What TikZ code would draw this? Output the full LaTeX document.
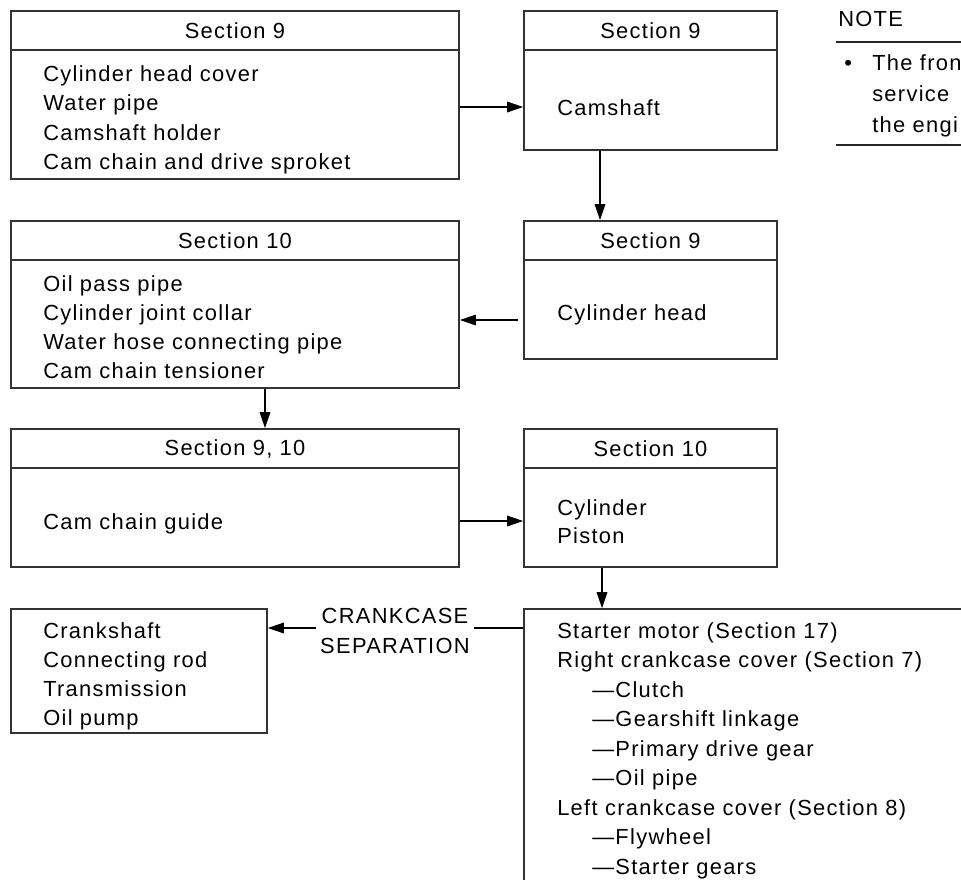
\documentclass[tikz,border=0pt]{standalone}
\usepackage{fontspec}
\setmainfont{Liberation Sans}[LetterSpace=6]
\usetikzlibrary{arrows.meta,calc}
\begin{document}
\begin{tikzpicture}[x=0.75pt,y=-0.75pt,
  every node/.style={font=\fontsize{16.4pt}{22pt}\selectfont},
  box/.style={draw=black!80, line width=1.3pt, inner sep=0pt},
  boxline/.style={draw=black!80, line width=1.3pt},
  item/.style={anchor=base west, inner sep=0pt},
  head/.style={inner sep=0pt},
  arr/.style={line width=0.85pt, -{Triangle[length=12pt,width=8pt]}},
  conn/.style={line width=0.85pt},
  rule/.style={line width=0.9pt, draw=black!85}]
\useasboundingbox (0,0) rectangle (961,879);
\clip (0,0) rectangle (961,879);

% boxes
\node[box, minimum width=336pt, minimum height=126pt] (b1) at (235,95) {};
\node[box, minimum width=189.75pt, minimum height=104.25pt] (b2) at (650.5,80.5) {};
\node[box, minimum width=189.75pt, minimum height=103.5pt] (b3) at (650.5,290) {};
\node[box, minimum width=336pt, minimum height=125.25pt] (b4) at (235,304.5) {};
\node[box, minimum width=336pt, minimum height=103.5pt] (b5) at (235,498) {};
\node[box, minimum width=189.75pt, minimum height=103.5pt] (b6) at (650.5,498) {};
\node[box, minimum width=192pt, minimum height=93pt] (b7) at (139,671) {};
\node[box, minimum width=357pt, minimum height=233.25pt] (b8) at (762,764.5) {};

% header rules and titles
\foreach \b/\t in {b1/Section 9, b2/Section 9, b3/Section 9, b4/Section 10, b6/Section 10}{
  \draw[boxline] ($(\b.north west)+(0,40)$) -- ($(\b.north east)+(0,40)$);
  \node[head] (\b h) at ($(\b.north)+(0,21)$) {\t};
}
\draw[boxline] ($(b5.north west)+(0,40)$) -- ($(b5.north east)+(0,40)$);
\node[head] (b5h) at ($(b5.north)+(0,21)$) {Section 9, 10};

% box texts
\foreach \t [count=\i] in {Cylinder head cover, Water pipe, Camshaft holder, Cam chain and drive sproket}
  \node[item] (b1i\i) at (43,{81+29.5*(\i-1)}) {\t};
\node[item] (b2i) at (557,115) {Camshaft};
\node[item] (b3i) at (557,320) {Cylinder head};
\foreach \t [count=\i] in {Oil pass pipe, Cylinder joint collar, Water hose connecting pipe, Cam chain tensioner}
  \node[item] (b4i\i) at (43,{291+29*(\i-1)}) {\t};
\node[item] (b5i) at (43,529) {Cam chain guide};
\node[item] (b6i1) at (557,515) {Cylinder};
\node[item] (b6i2) at (557,543) {Piston};
\foreach \t [count=\i] in {Crankshaft, Connecting rod, Transmission, Oil pump}
  \node[item] (b7i\i) at (43,{638+29*(\i-1)}) {\t};
\foreach \x/\t [count=\i] in {557/Starter motor (Section 17), 557/Right crankcase cover (Section 7),
   592/—Clutch, 592/—Gearshift linkage, 592/—Primary drive gear, 592/—Oil pipe,
   557/Left crankcase cover (Section 8), 592/—Flywheel, 592/—Starter gears}
  \node[item] (b8i\i) at (\x,{638+29.5*(\i-1)}) {\t};

% connector levels
\coordinate (y12) at (0,107);
\coordinate (x23) at (600,0);
\coordinate (y34) at (0,320);
\coordinate (x45) at (265,0);
\coordinate (y56) at (0,521);
\coordinate (x68) at (602,0);
\coordinate (ysep) at (0,628);

\draw[arr] (b1.east |- y12) -- (b2.west |- y12);
\draw[arr] (b2.south -| x23) -- (b3.north -| x23);
\draw[arr, shorten <=3.75pt] (b3.west |- y34) -- (b4.east |- y34);
\draw[arr] (b4.south -| x45) -- (b5.north -| x45);
\draw[arr] (b5.east |- y56) -- (b6.west |- y56);
\draw[arr] (b6.south -| x68) -- (b8.north -| x68);

\node[align=center, inner sep=3pt] (sep) at (395,631) {CRANKCASE\\SEPARATION};
\draw[conn] (b8.west |- ysep) -- (sep.east |- ysep);
\draw[arr] (sep.west |- ysep) -- (b7.east |- ysep);

% note
\node[item] (note) at (838,26) {NOTE};
\coordinate (r1a) at (836,42);
\coordinate (r1b) at (961,42);
\coordinate (r2a) at (836,145);
\coordinate (r2b) at (961,145);
\draw[rule] (r1a) -- (r1b);
\draw[rule] (r2a) -- (r2b);
\node[item] (bul) at (844,70) {•};
\node[item] (n1) at (872,70) {The fron};
\node[item] (n2) at (872,101) {service};
\node[item] (n3) at (872,132) {the engi};
\end{tikzpicture}
\end{document}
